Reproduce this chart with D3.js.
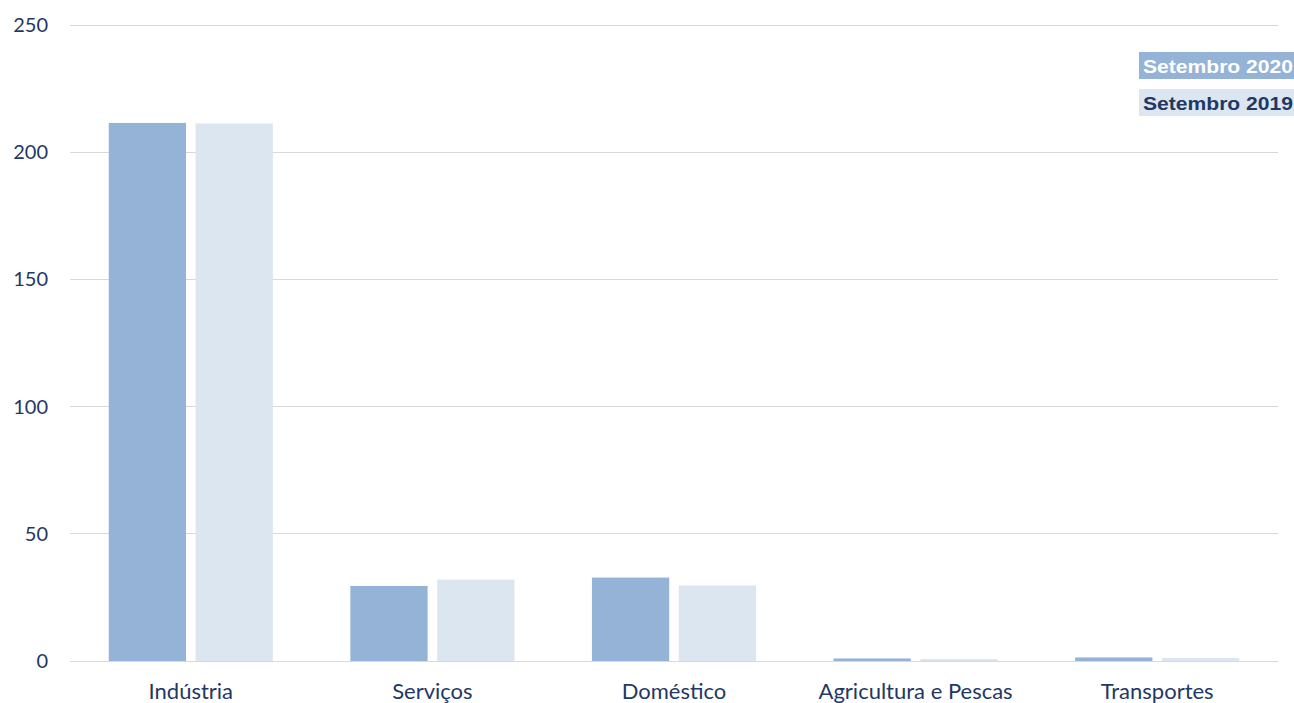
<!DOCTYPE html>
<html><head><meta charset="utf-8">
<script src="https://cdn.jsdelivr.net/npm/d3@7"></script>
<style>body{margin:0;background:#fff}svg{display:block}</style>
</head><body>
<svg id="chart" width="1294" height="703"></svg>
<script>
const categories = ["Indústria","Serviços","Doméstico","Agricultura e Pescas","Transportes"];
const seriesNames = ["Setembro 2020","Setembro 2019"];
const values2020 = [211.5, 29.5, 32.8, 1.0, 1.4];
const values2019 = [211.3, 32.0, 29.7, 0.8, 1.2];
const yTicks = [0,50,100,150,200,250];

const svg = d3.select("#chart");
const m = {left:70, right:16, top:25, bottom:42};
const W = 1294, H = 703;
const x = d3.scaleBand().domain(categories).range([m.left, W-m.right]).paddingInner(0).paddingOuter(0);
const y = d3.scaleLinear().domain([0,250]).range([H-m.bottom, m.top]);
const colors = ["#95B3D7","#DCE6F1"];
const textColor = "#1F3864";
const font = "Lato, 'Open Sans', sans-serif";

// gridlines
svg.append("g").selectAll("line").data(yTicks).join("line")
  .attr("x1", m.left).attr("x2", W-m.right)
  .attr("y1", d=>y(d)).attr("y2", d=>y(d))
  .attr("stroke", "#D9D9D9").attr("stroke-width", 1).attr("shape-rendering","crispEdges");

// y labels
svg.append("g").selectAll("text").data(yTicks).join("text")
  .attr("x", 48).attr("y", d=>y(d)).attr("dy","0.35em")
  .attr("text-anchor","end").attr("fill",textColor)
  .style("font-family",font).style("font-size","20px").text(d=>d);

const x1 = d3.scaleBand().domain([0,1]).range([0, x.bandwidth()]).paddingInner(0.11).paddingOuter(0.446);
const data = [values2020, values2019];
data.forEach((vals, si) => {
  svg.append("g").selectAll("rect").data(categories).join("rect")
    .attr("x", (c)=> x(c) + x1(si))
    .attr("width", x1.bandwidth())
    .attr("y", (c,i)=> y(vals[i]))
    .attr("height", (c,i)=> y(0) - y(vals[i]))
    .attr("fill", colors[si]);
});

// x labels
svg.append("g").selectAll("text").data(categories).join("text")
  .attr("x", c=> x(c)+x.bandwidth()/2).attr("y", 699)
  .attr("text-anchor","middle").attr("fill",textColor)
  .style("font-family",font).style("font-size","22px").text(c=>c);

// legend
const leg = svg.append("g");
const legY = [52, 89];
const legText = ["#FFFFFF", textColor];
seriesNames.forEach((s,i)=>{
  leg.append("rect").attr("x",1139).attr("y",legY[i]).attr("width",155).attr("height",27).attr("fill",colors[i]);
  leg.append("text").attr("x",1143).attr("y",legY[i]+14).attr("dy","0.36em")
    .attr("text-anchor","start").attr("fill",legText[i])
    .attr("textLength",150).attr("lengthAdjust","spacingAndGlyphs")
    .style("font-family","'Liberation Sans', Arial, sans-serif").style("font-weight","bold").style("font-size","19px").text(s);
});
</script>
</body></html>
